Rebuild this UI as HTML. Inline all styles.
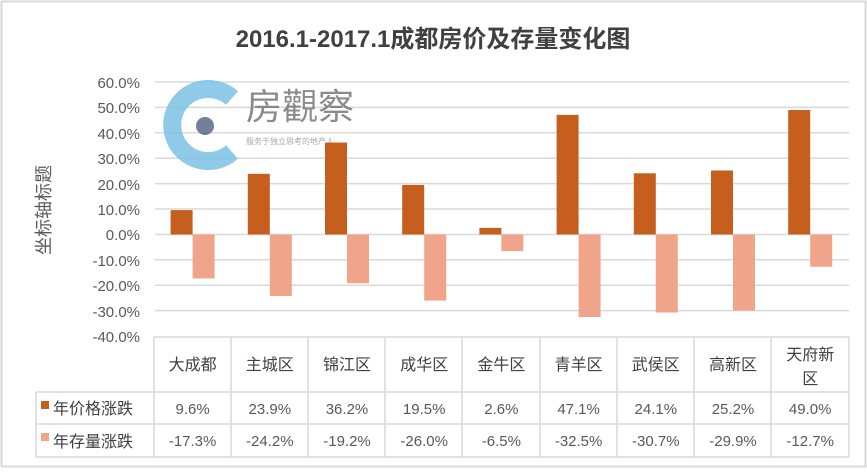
<!DOCTYPE html>
<html><head><meta charset="utf-8"><style>
body{margin:0;background:#fff}
text{font-family:"Liberation Sans","Noto Sans CJK SC",sans-serif}
</style></head><body>
<svg width="867" height="469" xmlns="http://www.w3.org/2000/svg">
<rect x="1.5" y="1.5" width="864" height="465" fill="#fff" stroke="#d9d9d9" stroke-width="2"/>
<text x="433" y="47" text-anchor="middle" font-size="24" font-weight="bold" fill="#404040">2016.1-2017.1成都房价及存量变化图</text>
<g stroke="#d9d9d9" stroke-width="1.5">
<line x1="155" x2="849" y1="82" y2="82"/><line x1="155" x2="849" y1="107.4" y2="107.4"/>
<line x1="155" x2="849" y1="132.8" y2="132.8"/><line x1="155" x2="849" y1="158.2" y2="158.2"/>
<line x1="155" x2="849" y1="183.6" y2="183.6"/><line x1="155" x2="849" y1="209" y2="209"/>
<line x1="155" x2="849" y1="234.5" y2="234.5"/><line x1="155" x2="849" y1="259.8" y2="259.8"/>
<line x1="155" x2="849" y1="285.2" y2="285.2"/><line x1="155" x2="849" y1="310.6" y2="310.6"/>
</g>
<g font-size="15" fill="#595959" text-anchor="end">
<text x="140" y="88">60.0%</text><text x="140" y="113">50.0%</text><text x="140" y="139">40.0%</text>
<text x="140" y="164">30.0%</text><text x="140" y="190">20.0%</text><text x="140" y="215">10.0%</text>
<text x="140" y="240">0.0%</text><text x="140" y="266">-10.0%</text><text x="140" y="291">-20.0%</text>
<text x="140" y="317">-30.0%</text><text x="140" y="342">-40.0%</text>
</g>
<text transform="translate(50,210) rotate(-90)" text-anchor="middle" font-size="18" fill="#595959">坐标轴标题</text>
<!-- logo -->
<g opacity="0.85">
<path d="M232 98 A36 36 0 1 0 232 152" fill="none" stroke="#7cc3e6" stroke-width="18"/>
<circle cx="205" cy="126" r="9" fill="#5a6a8a"/>
<text x="246" y="119" font-size="36" fill="#777">房觀察</text>
<text x="246" y="144" font-size="8" fill="#999">服务于独立思考的地产人</text>
</g>
<g id="bars"></g>
<!-- table -->
<g stroke="#d9d9d9" stroke-width="1.5" fill="none">
<line x1="154" y1="337" x2="154" y2="457"/>
<line x1="36" y1="392" x2="36" y2="457"/>
<line x1="154" y1="337" x2="849" y2="337"/>
<line x1="36" y1="392" x2="849" y2="392"/>
<line x1="36" y1="424" x2="849" y2="424"/>
<line x1="36" y1="457" x2="849" y2="457"/>
<line x1="231" y1="337" x2="231" y2="457"/><line x1="308" y1="337" x2="308" y2="457"/>
<line x1="385" y1="337" x2="385" y2="457"/><line x1="462" y1="337" x2="462" y2="457"/>
<line x1="540" y1="337" x2="540" y2="457"/><line x1="617" y1="337" x2="617" y2="457"/>
<line x1="694" y1="337" x2="694" y2="457"/><line x1="771" y1="337" x2="771" y2="457"/>
<line x1="849" y1="337" x2="849" y2="457"/>
</g>
<rect x="41" y="401" width="8" height="8" fill="#c65e1e"/>
<rect x="41" y="433" width="8" height="8" fill="#f0a48a"/>
<text x="53" y="414" font-size="16" fill="#404040">年价格涨跌</text>
<text x="53" y="447" font-size="16" fill="#404040">年存量涨跌</text>
<script>
var names=["大成都","主城区","锦江区","成华区","金牛区","青羊区","武侯区","高新区","天府新"];
var p=[9.6,23.9,36.2,19.5,2.6,47.1,24.1,25.2,49.0];
var s=[-17.3,-24.2,-19.2,-26.0,-6.5,-32.5,-30.7,-29.9,-12.7];
var ns="http://www.w3.org/2000/svg",svg=document.querySelector("svg");
function el(t,a,txt){var e=document.createElementNS(ns,t);for(var k in a)e.setAttribute(k,a[k]);if(txt)e.textContent=txt;svg.appendChild(e);return e;}
var z=234.5,u=2.54,w=77.2;
for(var i=0;i<9;i++){var c=154+w*i+w/2;
el("rect",{x:c-22,y:z-p[i]*u,width:22,height:p[i]*u,fill:"#c65e1e"});
el("rect",{x:c,y:z,width:22,height:-s[i]*u,fill:"#f0a48a"});
el("text",{x:c,y:i==8?360:370,"text-anchor":"middle","font-size":"16",fill:"#404040"},names[i]);
if(i==8)el("text",{x:c,y:384,"text-anchor":"middle","font-size":"16",fill:"#404040"},"区");
el("text",{x:c,y:414,"text-anchor":"middle","font-size":"15",fill:"#595959"},p[i].toFixed(1)+"%");
el("text",{x:c,y:446,"text-anchor":"middle","font-size":"15",fill:"#595959"},s[i].toFixed(1)+"%");}
</script>
</svg>
</body></html>
